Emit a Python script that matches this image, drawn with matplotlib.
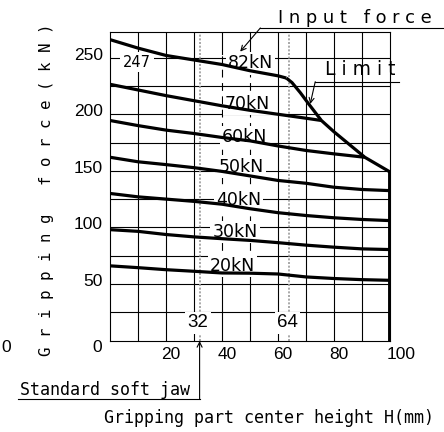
import matplotlib
matplotlib.use("Agg")
import matplotlib.pyplot as plt

# Gripping force (kN) against gripping part center height H (mm), one curve per input force
h_82 = [0, 10, 20, 30, 40, 50, 60, 63]
f_82 = [266, 258.5, 252, 248, 244, 238.5, 234, 232]

h_70 = [0, 10, 20, 30, 40, 50, 60, 70, 75.5]
f_70 = [226.5, 221.5, 216.5, 212, 207.5, 203.5, 200, 196.5, 194.5]

h_60 = [0, 10, 20, 30, 40, 50, 60, 70, 80, 91]
f_60 = [194.5, 190, 186, 183, 179.5, 176.5, 172, 168, 165, 162]

h_full = [0, 10, 20, 30, 40, 50, 60, 70, 80, 90, 100]
f_50 = [162, 158, 155.5, 152.8, 149.5, 145.5, 141.5, 139, 135.5, 133.5, 132.5]
f_40 = [130, 127, 125, 123, 120.5, 116.5, 113, 110.5, 108.5, 107, 106]
f_30 = [98, 96.5, 93.7, 91.6, 90, 88.5, 86.5, 84.3, 82.5, 81, 80.4]
f_20 = [66, 64.4, 62.6, 61.2, 59.7, 59.5, 58.8, 56.2, 54.8, 53.8, 53.2]

# Limit line (upper boundary for the 82 kN input force)
h_limit = [63, 65, 68, 71, 75.5, 80, 91, 100]
f_limit = [232, 228, 219, 209, 194.5, 184.5, 162, 149]

curve_labels = ["82kN", "70kN", "60kN", "50kN", "40kN", "30kN", "20kN"]
label_h = [50.2, 49.1, 48.0, 46.8, 45.9, 44.6, 43.8]
label_f = [244.9, 209.1, 180.2, 153.8, 124.2, 95.9, 66.3]

x_tick_vals = [20, 40, 60, 80, 100]
y_tick_vals = [50, 100, 150, 200, 250]
grid_x = [10, 20, 30, 40, 50, 60, 70, 80, 90]
grid_y = [25, 50, 75, 100, 125, 150, 175, 200, 225, 250]
ref_heights = [32, 64]
value_at_32 = 247

MONO = "DejaVu Sans Mono"
SANS = "DejaVu Sans"
TICK = "Liberation Sans"
LW_GRID = 0.8
LW_CURVE = 2.3

fig = plt.figure(figsize=(4.44, 4.32), dpi=100)
fig.patch.set_facecolor("white")
ax = fig.add_axes([110 / 444, 91.5 / 432, 280 / 444, 308.8 / 432])
ax.set_xlim(0, 100)
ax.set_ylim(0, 273)
ax.set_xticks([])
ax.set_yticks([])
for sp in ax.spines.values():
    sp.set_linewidth(LW_GRID)
    sp.set_color("black")

# grid
for x in grid_x:
    if x in (40, 50):
        ax.plot([x, x], [0, 56], color="k", lw=LW_GRID, zorder=1)
        ax.plot([x, x], [56, 253], color="k", lw=LW_GRID, ls=(0, (7, 5)), zorder=1)
        ax.plot([x, x], [253, 273], color="k", lw=LW_GRID, zorder=1)
    else:
        ax.axvline(x, color="k", lw=LW_GRID, zorder=1)
for y in grid_y:
    ax.axhline(y, color="k", lw=LW_GRID, zorder=1)

# reference heights
for h in ref_heights:
    ax.axvline(h, color="#9a9a9a", lw=1.2, ls=(0, (1.2, 1.0)), zorder=1.5)
    ax.text(h - 0.6, 15.5, str(h), family=TICK, fontsize=13.5, ha="center",
            va="center", zorder=3,
            bbox=dict(boxstyle="square,pad=0.12", fc="white", ec="none"))

# curves
curve_style = dict(color="black", lw=LW_CURVE, solid_joinstyle="round",
                   solid_capstyle="butt", zorder=4)
ax.plot(h_82, f_82, **curve_style)
ax.plot(h_limit, f_limit, **curve_style)
ax.plot([h_limit[-1], h_limit[-1]], [0, f_limit[-1]], color="black", lw=2.8,
        solid_capstyle="butt", zorder=4)
ax.plot(h_70, f_70, **curve_style)
ax.plot(h_60, f_60, **curve_style)
for f in (f_50, f_40, f_30, f_20):
    ax.plot(h_full, f, **curve_style)

for txt, hx, fy in zip(curve_labels, label_h, label_f):
    ax.text(hx, fy, txt, family=SANS, fontsize=12.5, ha="center", va="center",
            zorder=3, bbox=dict(boxstyle="square,pad=0.12", fc="white", ec="none"))

ax.text(9.6, 246.2, str(value_at_32), family=SANS, fontsize=10.5, ha="center",
        va="center", zorder=3,
        bbox=dict(boxstyle="square,pad=0.2", fc="white", ec="none"))

# tick labels
for v in y_tick_vals:
    ax.text(-2.5, v + 2.2, str(v), family=TICK, fontsize=12.5, ha="right",
            va="center", clip_on=False)
ax.text(-2.9, -6.6, "0", family=TICK, fontsize=12.5, ha="right", va="center",
        clip_on=False)
ax.text(-38.9, -6.6, "0", family=TICK, fontsize=12.5, ha="left",
        va="center", clip_on=False)
for v in x_tick_vals:
    shift = 4.0 if v == 100 else 1.7
    ax.text(v + shift, -12.3, str(v), family=TICK, fontsize=12.5, ha="center",
            va="center", clip_on=False)

# axis titles
ax.text(-22.5, 133, "G r i p p i n g   f o r c e ( k N )", family=MONO,
        fontsize=11.3, rotation=90, ha="center", va="center", clip_on=False)
ax.text(56.8, -68.1, "Gripping part center height H(mm)", family=MONO,
        fontsize=12, ha="center", va="center", clip_on=False)

# callouts
line_kw = dict(color="black", lw=LW_GRID, clip_on=False)
arrow_kw = dict(arrowstyle="->", lw=LW_GRID, color="black", shrinkA=0,
                shrinkB=0, mutation_scale=9)

ax.text(87.5, 285.0, "I n p u t   f o r c e", family=SANS, fontsize=12.9,
        ha="center", va="center", clip_on=False)
ax.plot([53.7, 119.3], [276.3, 276.3], **line_kw)
ax.annotate("", xy=(46.5, 255.4), xytext=(53.7, 276.3), arrowprops=arrow_kw,
            annotation_clip=False)

ax.text(89.5, 239.2, "L i m i t", family=SANS, fontsize=13.5, ha="center",
        va="center", zorder=3, clip_on=False)
ax.plot([73.3, 103.2], [228.8, 228.8], **line_kw)
ax.annotate("", xy=(71.5, 209.1), xytext=(73.3, 228.8), arrowprops=arrow_kw,
            annotation_clip=False)

ax.text(-32.1, -43.8, "Standard soft jaw", family=MONO, fontsize=12,
        ha="left", va="center", clip_on=False)
ax.plot([-32.9, 32], [-51.5, -51.5], **line_kw)
ax.annotate("", xy=(32, -0.4), xytext=(32, -51.5), arrowprops=arrow_kw,
            annotation_clip=False)

fig.savefig("out.png", dpi=100, facecolor="white")
